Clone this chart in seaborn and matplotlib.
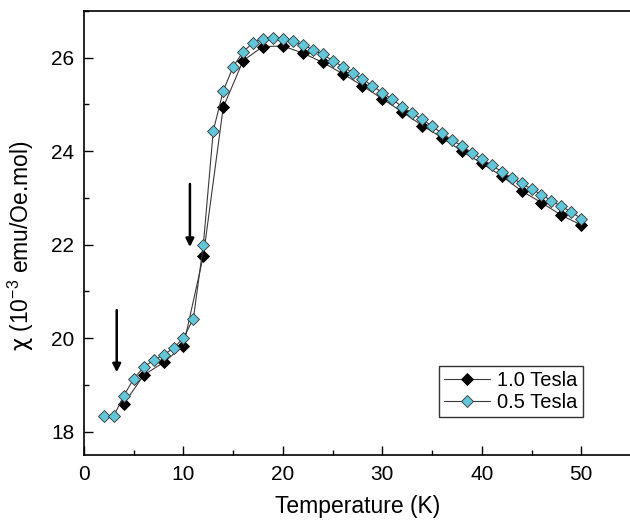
import numpy as np
import pandas as pd
import matplotlib
matplotlib.use("Agg")
import matplotlib.pyplot as plt
from matplotlib.ticker import MultipleLocator
import seaborn as sns

# ---- data ----
temp_05 = [2, 3, 4, 5, 6, 7, 8, 9, 10, 11, 12, 13, 14, 15, 16, 17, 18, 19, 20,
           21, 22, 23, 24, 25, 26, 27, 28, 29, 30, 31, 32, 33, 34, 35, 36, 37,
           38, 39, 40, 41, 42, 43, 44, 45, 46, 47, 48, 49, 50]
chi_05 = [18.34, 18.34, 18.77, 19.13, 19.38, 19.53, 19.64, 19.79, 20.00, 20.42,
          22.00, 24.44, 25.29, 25.81, 26.13, 26.32, 26.41, 26.43, 26.41, 26.35,
          26.28, 26.17, 26.07, 25.94, 25.81, 25.68, 25.54, 25.40, 25.25, 25.11,
          24.95, 24.81, 24.68, 24.54, 24.38, 24.24, 24.11, 23.97, 23.83, 23.70,
          23.56, 23.43, 23.31, 23.19, 23.07, 22.94, 22.82, 22.70, 22.56]
temp_10 = [4, 6, 8, 10, 12, 14, 16, 18, 20, 22, 24, 26, 28, 30, 32, 34, 36, 38,
           40, 42, 44, 46, 48, 50]
chi_10 = [18.59, 19.21, 19.48, 19.84, 21.76, 24.94, 25.94, 26.24, 26.25, 26.10,
          25.90, 25.66, 25.40, 25.12, 24.84, 24.55, 24.29, 24.00, 23.74, 23.47,
          23.15, 22.90, 22.63, 22.42]
series_labels = ["1.0 Tesla", "0.5 Tesla"]
x_label = "Temperature (K)"
y_label = "$\\mathsf{\\chi}$ (10$^{-3}$ emu/Oe.mol)"
arrow_x = [10.65, 3.29]
arrow_top = [23.3, 20.6]
arrow_tip = [21.95, 19.27]

df10 = pd.DataFrame({"T": temp_10, "chi": chi_10})
df05 = pd.DataFrame({"T": temp_05, "chi": chi_05})

sns.set_style("ticks")
plt.rcParams["font.family"] = ["Liberation Sans", "DejaVu Sans"]
plt.rcParams["mathtext.fontset"] = "custom"
plt.rcParams["mathtext.rm"] = "Liberation Sans"
plt.rcParams["mathtext.it"] = "Liberation Sans:italic"
plt.rcParams["mathtext.bf"] = "Liberation Sans:bold"
plt.rcParams["mathtext.sf"] = "DejaVu Sans"
plt.rcParams["text.color"] = "black"
plt.rcParams["axes.labelcolor"] = "black"
plt.rcParams["xtick.color"] = "black"
plt.rcParams["ytick.color"] = "black"
plt.rcParams["xtick.labelcolor"] = "black"
plt.rcParams["ytick.labelcolor"] = "black"

fig = plt.figure(figsize=(6.30, 5.21), dpi=100)
W, H = 630, 521
ax = fig.add_axes([84 / W, 1 - 455 / H, 547 / W, 444 / H])

sns.lineplot(data=df10, x="T", y="chi", ax=ax, color="#3a3a3a", lw=0.8,
             marker="D", markersize=6.0, markerfacecolor="black",
             markeredgecolor="black", markeredgewidth=0.6,
             label=series_labels[0], sort=False)
sns.lineplot(data=df05, x="T", y="chi", ax=ax, color="#3a3a3a", lw=0.8,
             marker="D", markersize=6.0, markerfacecolor="#62C6D9",
             markeredgecolor="#333333", markeredgewidth=0.6,
             label=series_labels[1], sort=False)

for xa, yt, yh in zip(arrow_x, arrow_top, arrow_tip):
    ax.annotate("", xy=(xa, yh), xytext=(xa, yt),
                arrowprops=dict(arrowstyle="-|>", color="black", lw=1.8,
                                mutation_scale=12, shrinkA=0, shrinkB=0))

ax.set_xlim(0, 55)
ax.set_ylim(17.5, 27.0)
ax.xaxis.set_major_locator(MultipleLocator(10))
ax.xaxis.set_minor_locator(MultipleLocator(5))
ax.yaxis.set_major_locator(MultipleLocator(2))
ax.yaxis.set_minor_locator(MultipleLocator(1))
ax.tick_params(which="both", direction="in", width=1.0, labelsize=15,
               top=False, right=False, color="black", labelcolor="black")
ax.tick_params(which="major", length=6.5, pad=7)
ax.tick_params(which="minor", length=3.6)
for s in ax.spines.values():
    s.set_visible(True)
    s.set_linewidth(1.2)
    s.set_color("black")

ax.set_xlabel(x_label, fontsize=16.5, labelpad=8, color="black")
ax.set_ylabel(y_label, fontsize=16.5, color="black")
ax.yaxis.set_label_coords(-0.088, 0.472)

leg = ax.legend(loc="lower right", bbox_to_anchor=(0.912, 0.0856),
                borderaxespad=0, fontsize=14.5, frameon=True, fancybox=False,
                handlelength=2.3, handletextpad=0.35, borderpad=0.25,
                labelspacing=0.15)
leg.get_frame().set_edgecolor("black")
leg.get_frame().set_linewidth(1.0)
for t in leg.get_texts():
    t.set_color("black")

fig.savefig("out.png", dpi=100)
